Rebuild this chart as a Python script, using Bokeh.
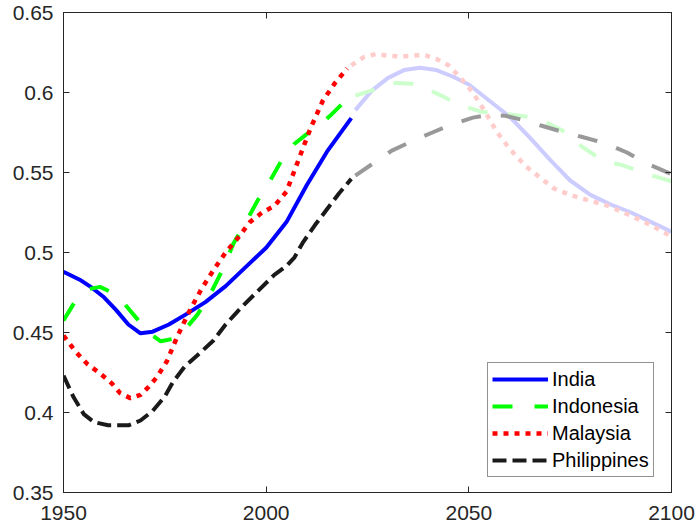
from bokeh.plotting import figure
from bokeh.models import LinearAxis, FixedTicker, CustomJSTickFormatter, Range1d
from bokeh.embed import file_html
from bokeh.resources import INLINE

# ---------------- data ----------------
india_hist_years = [1950, 1954, 1957, 1960, 1963, 1966, 1969, 1972, 1976, 1980, 1985, 1990, 1995, 2000, 2005, 2010, 2015, 2021]
india_hist_vals = [0.488, 0.483, 0.478, 0.472, 0.464, 0.455, 0.4495, 0.4505, 0.455, 0.461, 0.469, 0.479, 0.491, 0.503, 0.519, 0.542, 0.563, 0.584]
india_proj_years = [2022, 2026, 2030, 2034, 2038, 2042, 2046, 2050, 2055, 2060, 2065, 2070, 2075, 2080, 2085, 2090, 2095, 2100]
india_proj_vals = [0.589, 0.601, 0.609, 0.614, 0.6155, 0.614, 0.610, 0.605, 0.595, 0.585, 0.572, 0.558, 0.545, 0.536, 0.530, 0.525, 0.519, 0.513]

indonesia_hist_years = [1950, 1953, 1956, 1959, 1962, 1965, 1968, 1971, 1974, 1977, 1980, 1983, 1986, 1989, 1992, 1995, 1998, 2001, 2004, 2007, 2010, 2013, 2016, 2020]
indonesia_hist_vals = [0.4575, 0.470, 0.477, 0.4785, 0.475, 0.468, 0.459, 0.450, 0.4445, 0.446, 0.452, 0.461, 0.473, 0.488, 0.506, 0.519, 0.533, 0.545, 0.5585, 0.568, 0.574, 0.579, 0.586, 0.596]
indonesia_proj_years = [2022, 2027, 2032, 2036, 2040, 2044, 2048, 2053, 2058, 2064, 2069, 2074, 2078, 2083, 2088, 2094, 2100]
indonesia_proj_vals = [0.598, 0.602, 0.606, 0.6055, 0.602, 0.597, 0.592, 0.588, 0.587, 0.585, 0.5815, 0.575, 0.566, 0.5575, 0.5545, 0.549, 0.5445]

malaysia_hist_years = [1950, 1953, 1956, 1959, 1962, 1964, 1966.5, 1969, 1971, 1973, 1975.5, 1978, 1981, 1984, 1987, 1990, 1993, 1996, 1999, 2002, 2005, 2008, 2011, 2014, 2017, 2020]
malaysia_hist_vals = [0.448, 0.438, 0.430, 0.4245, 0.418, 0.412, 0.409, 0.411, 0.416, 0.422, 0.432, 0.447, 0.463, 0.477, 0.489, 0.500, 0.509, 0.519, 0.525, 0.529, 0.538, 0.558, 0.578, 0.595, 0.606, 0.615]
malaysia_proj_years = [2021, 2024, 2027, 2030, 2033, 2036, 2039, 2042, 2045, 2048, 2051, 2054, 2057, 2060, 2064, 2068, 2071, 2075, 2079, 2084, 2090, 2095, 2100]
malaysia_proj_vals = [0.617, 0.622, 0.624, 0.623, 0.6225, 0.623, 0.6235, 0.621, 0.617, 0.609, 0.600, 0.588, 0.575, 0.565, 0.554, 0.546, 0.540, 0.536, 0.533, 0.5295, 0.523, 0.517, 0.510]

philippines_hist_years = [1950, 1952.5, 1955, 1957.5, 1961, 1966, 1969, 1972, 1975, 1977, 1980, 1984, 1987, 1990, 1994, 1998, 2002, 2005, 2007, 2009, 2012, 2015, 2018, 2021]
philippines_hist_vals = [0.423, 0.4095, 0.399, 0.394, 0.392, 0.392, 0.395, 0.401, 0.410, 0.419, 0.429, 0.438, 0.445, 0.455, 0.466, 0.476, 0.486, 0.4915, 0.497, 0.506, 0.517, 0.527, 0.537, 0.546]
philippines_proj_years = [2022, 2026, 2031, 2036, 2041, 2046, 2051, 2055, 2059, 2063, 2068, 2073, 2078, 2084, 2089, 2094, 2100]
philippines_proj_vals = [0.548, 0.555, 0.5637, 0.5696, 0.575, 0.5802, 0.5843, 0.586, 0.5855, 0.583, 0.5792, 0.5755, 0.5722, 0.568, 0.5625, 0.5555, 0.549]

x_ticks = [1950, 2000, 2050, 2100]
y_ticks = [0.35, 0.4, 0.45, 0.5, 0.55, 0.6, 0.65]

# ---------------- figure ----------------
FONT = "Liberation Sans"
AX = "#262626"

p = figure(width=697, height=532, output_backend="svg", toolbar_location=None,
           x_range=Range1d(1950, 2100), y_range=Range1d(0.35, 0.65),
           x_axis_location=None, y_axis_location=None,
           min_border_left=63, min_border_right=26, min_border_top=12, min_border_bottom=40)
p.grid.visible = False
p.outline_line_color = AX
p.outline_line_width = 1
p.background_fill_color = "white"
p.border_fill_color = "white"

fmt = CustomJSTickFormatter(code="return String(Math.round(tick*100)/100);")
blank_fmt = CustomJSTickFormatter(code="return '';")

def make_axis(ticks, labels, standoff):
    ax = LinearAxis(ticker=FixedTicker(ticks=ticks), formatter=fmt if labels else blank_fmt)
    ax.major_tick_in = 6
    ax.major_tick_out = 0
    ax.minor_tick_line_color = None
    ax.axis_line_color = AX
    ax.major_tick_line_color = AX
    ax.major_label_standoff = standoff
    ax.major_label_text_font = FONT
    ax.major_label_text_color = AX
    ax.major_label_text_font_size = "21px"
    return ax

p.add_layout(make_axis(y_ticks, True, 10), "left")
p.add_layout(make_axis(x_ticks, True, 13), "below")
p.add_layout(make_axis(y_ticks, False, 0), "right")
p.add_layout(make_axis(x_ticks, False, 0), "above")

LW = 4
# projections (light colours)
p.line(india_proj_years, india_proj_vals, line_color="#ccccff", line_width=LW)
p.line(indonesia_proj_years, indonesia_proj_vals, line_color="#ccffcc", line_width=LW, line_dash="20 20")
p.line(malaysia_proj_years, malaysia_proj_vals, line_color="#ffcccc", line_width=LW + 0.5, line_dash="5 6")
p.line(philippines_proj_years, philippines_proj_vals, line_color="#999999", line_width=LW, line_dash="20 20")

# historical
p.line(india_hist_years, india_hist_vals, line_color="#0000ff", line_width=LW, legend_label="India")
p.line(indonesia_hist_years, indonesia_hist_vals, line_color="#00ff00", line_width=LW, line_dash="20 22", legend_label="Indonesia")
p.line(malaysia_hist_years, malaysia_hist_vals, line_color="#ff0000", line_width=LW + 0.5, line_dash="5 6", legend_label="Malaysia")
p.line(philippines_hist_years, philippines_hist_vals, line_color="#1a1a1a", line_width=LW, line_dash="14 6", legend_label="Philippines")

lg = p.legend[0]
lg.location = (424, 15)
lg.margin = 0
lg.padding = 4
lg.spacing = 3
lg.glyph_width = 56
lg.glyph_height = 24
lg.label_height = 24
lg.label_standoff = 4
lg.label_text_font = FONT
lg.label_text_font_size = "20px"
lg.label_text_color = "#000000"
lg.border_line_color = AX
lg.border_line_width = 1
lg.background_fill_color = "white"
lg.background_fill_alpha = 1

open("out.html", "w").write(file_html(p, INLINE))
